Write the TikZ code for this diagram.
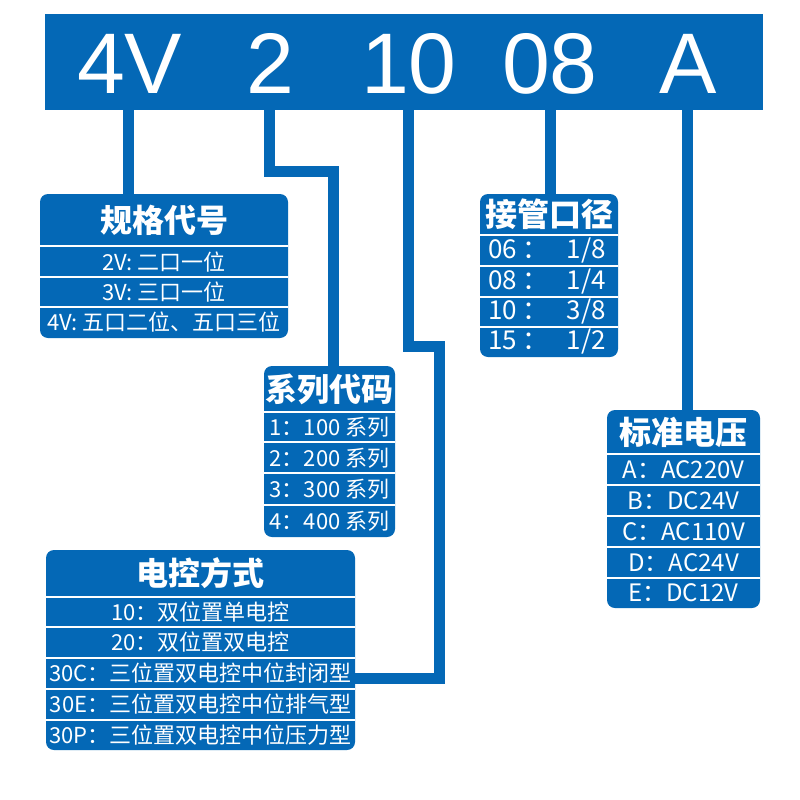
\documentclass[tikz,border=0pt]{standalone}
\usepackage{fontspec}
\setmainfont{Noto Sans CJK SC}
\newfontfamily\barfont{Liberation Sans}
\definecolor{bl}{HTML}{0468B6}
\tikzset{
  panel/.style={fill=bl, draw=none, rounded corners=8pt, inner sep=0pt},
  barbox/.style={fill=bl, draw=none, inner sep=0pt},
  conn/.style={draw=bl, line width=11pt},
  sep/.style={draw=white, line width=1.3pt},
  bigtxt/.style={text=white, inner sep=0pt, anchor=base, font=\barfont\fontsize{86}{86}\selectfont},
  ttl/.style={text=white, inner sep=0pt, font=\bfseries\fontsize{32}{32}\selectfont},
  row/.style={text=white, inner sep=0pt, font=\fontsize{22}{22}\selectfont},
  rowb/.style={text=white, inner sep=0pt, font=\fontsize{26}{26}\selectfont},
  rowc/.style={text=white, inner sep=0pt, font=\fontsize{24}{24}\selectfont},
}
\begin{document}
\begin{tikzpicture}[x=1pt,y=-1pt]
\useasboundingbox[fill=white] (0,0) rectangle (800,800);
% top bar
\node[barbox, minimum width=718pt, minimum height=96pt] (bar) at (404,62) {};
\node[bigtxt] (c1) at (129.6,93.3) {4V};
\node[bigtxt] (c2) at (270,93.3) {2};
\node[bigtxt] (c3) at (409,93.3) {10};
\node[bigtxt] (c4) at (550,93.3) {08};
\node[bigtxt] (c5) at (688,93.3) {A};
% panels
\node[panel, minimum width=248pt, minimum height=144pt] (box1) at (164,266) {};
\node[panel, minimum width=131pt, minimum height=171pt] (box2) at (329.5,451.5) {};
\node[panel, minimum width=309pt, minimum height=200pt] (box3) at (200.5,650) {};
\node[panel, minimum width=138pt, minimum height=163pt] (box4) at (549,275.5) {};
\node[panel, minimum width=153pt, minimum height=198pt] (box5) at (683.5,509) {};
% connectors
\coordinate (k1) at (128,150);
\coordinate (k2a) at (269,171);
\coordinate (k2b) at (333,171);
\coordinate (k3a) at (408,346);
\coordinate (k3b) at (439,346);
\coordinate (k3c) at (439,678);
\coordinate (k4) at (550,150);
\coordinate (k5) at (687,150);
\draw[conn] ([yshift=2pt]bar.south -| k1) -- ([yshift=-2pt]box1.north -| k1);
\draw[conn] ([yshift=2pt]bar.south -| k2a) -- (k2a) -- (k2b) -- ([yshift=-2pt]box2.north -| k2b);
\draw[conn] ([yshift=2pt]bar.south -| k3a) -- (k3a) -- (k3b) -- (k3c) -- ([xshift=-2pt]box3.east |- k3c);
\draw[conn] ([yshift=2pt]bar.south -| k4) -- ([yshift=-2pt]box4.north -| k4);
\draw[conn] ([yshift=2pt]bar.south -| k5) -- ([yshift=-2pt]box5.north -| k5);
% box1
\foreach \yy in {246,277,307} \draw[sep] (box1.west |- 0,\yy) -- (box1.east |- 0,\yy);
\node[ttl] (h1) at (164,220) {规格代号};
\node[row] (r11) at (164,262) {2V: 二口一位};
\node[row] (r12) at (164,292) {3V: 三口一位};
\node[row] (r13) at (164,322.5) {4V: 五口二位、五口三位};
% box2
\foreach \yy in {412,442,473,505} \draw[sep] (box2.west |- 0,\yy) -- (box2.east |- 0,\yy);
\node[ttl] (h2) at (329.5,389) {系列代码};
\node[row] (r21) at (329.5,427) {1：100 系列};
\node[row] (r22) at (329.5,458) {2：200 系列};
\node[row] (r23) at (329.5,489) {3：300 系列};
\node[row] (r24) at (329.5,521) {4：400 系列};
% box3
\foreach \yy in {597,627,658,689,720} \draw[sep] (box3.west |- 0,\yy) -- (box3.east |- 0,\yy);
\node[ttl] (h3) at (200.5,573) {电控方式};
\node[row] (r31) at (200.5,612) {10：双位置单电控};
\node[row] (r32) at (200.5,642.5) {20：双位置双电控};
\node[row] (r33) at (200.5,673.5) {30C：三位置双电控中位封闭型};
\node[row] (r34) at (200.5,704.5) {30E：三位置双电控中位排气型};
\node[row] (r35) at (200.5,735) {30P：三位置双电控中位压力型};
% box4
\foreach \yy in {235,266,297,327} \draw[sep] (box4.west |- 0,\yy) -- (box4.east |- 0,\yy);
\node[ttl] (h4) at (549,214.5) {接管口径};
\node[rowb] (r41) at (547,250.5) {06\hspace{6pt}：\hspace{18pt}1/8};
\node[rowb] (r42) at (547,281.5) {08\hspace{6pt}：\hspace{18pt}1/4};
\node[rowb] (r43) at (547,312) {10\hspace{6pt}：\hspace{18pt}3/8};
\node[rowb] (r44) at (547,342) {15\hspace{6pt}：\hspace{18pt}1/2};
% box5
\foreach \yy in {454,485,516,547,578} \draw[sep] (box5.west |- 0,\yy) -- (box5.east |- 0,\yy);
\node[ttl] (h5) at (683.5,432) {标准电压};
\node[rowc] (r51) at (683.5,470) {A：AC220V};
\node[rowc] (r52) at (683.5,500.5) {B：DC24V};
\node[rowc] (r53) at (683.5,531.5) {C：AC110V};
\node[rowc] (r54) at (683.5,562.5) {D：AC24V};
\node[rowc] (r55) at (683.5,593) {E：DC12V};
\end{tikzpicture}
\end{document}
